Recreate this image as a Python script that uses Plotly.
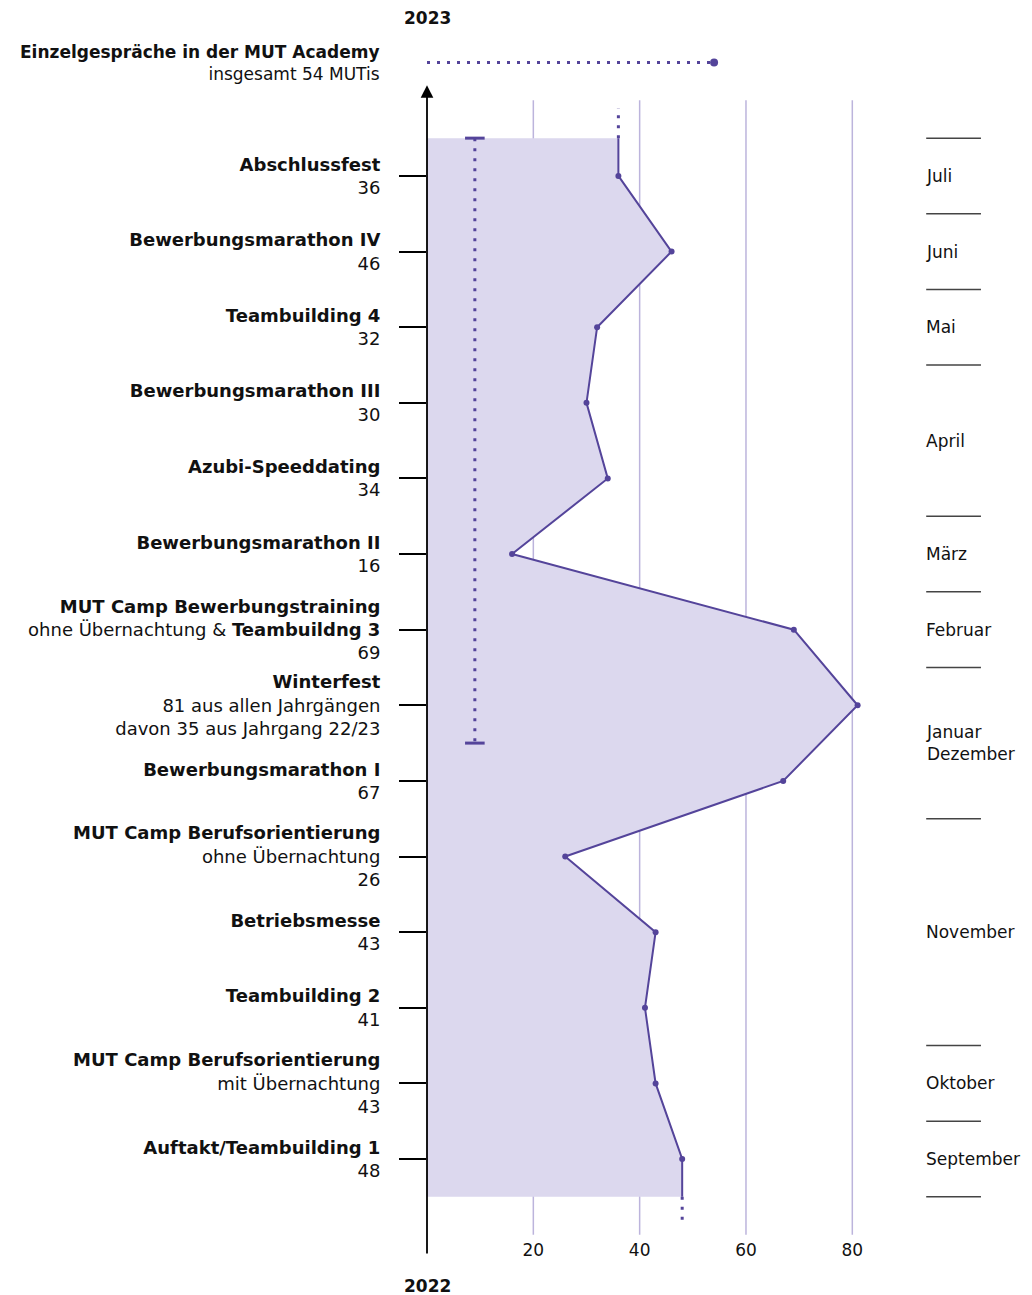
import plotly.graph_objects as go

PURPLE = "#54449a"
FILL = "#dcd8ee"
GRID = "#bcb4dc"
FONT = "'DejaVu Sans', Inter, sans-serif"

# events from bottom (Sept 2022) to top (Juli 2023)
event_titles = [
    "Auftakt/Teambuilding 1",
    "MUT Camp Berufsorientierung",
    "Teambuilding 2",
    "Betriebsmesse",
    "MUT Camp Berufsorientierung",
    "Bewerbungsmarathon I",
    "Winterfest",
    "MUT Camp Bewerbungstraining",
    "Bewerbungsmarathon II",
    "Azubi-Speeddating",
    "Bewerbungsmarathon III",
    "Teambuilding 4",
    "Bewerbungsmarathon IV",
    "Abschlussfest",
]
event_notes = [
    "",
    "mit Übernachtung",
    "",
    "",
    "ohne Übernachtung",
    "",
    "81 aus allen Jahrgängen<br>davon 35 aus Jahrgang 22/23",
    "ohne Übernachtung & <b>Teambuildng 3</b>",
    "",
    "",
    "",
    "",
    "",
    "",
]
participants = [48, 43, 41, 43, 26, 67, 81, 69, 16, 34, 30, 32, 46, 36]
show_value = [True, True, True, True, True, True, False, True, True, True, True, True, True, True]

# month bands (label, centre row) and separators between them
months = ["September", "Oktober", "November", "Januar<br>Dezember", "Februar",
          "März", "April", "Mai", "Juni", "Juli"]
month_rows = [0, 1, 3, 5.5, 7, 8, 9.5, 11, 12, 13]
month_borders = [-0.5, 0.5, 1.5, 4.5, 6.5, 7.5, 8.5, 10.5, 11.5, 12.5, 13.5]

# Einzelgespräche
einzel_total = 54
einzel_row = 14.5
# dotted bar (value, from row, to row)
bar_value = 9
bar_rows = [13.5, 5.5]

x_ticks = [20, 40, 60, 80]

rows = list(range(len(participants)))

tick_text = []
for t, n, v, s in zip(event_titles, event_notes, participants, show_value):
    parts = [f"<b>{t}</b>"]
    if n:
        parts.append(n)
    if s:
        parts.append(str(v))
    tick_text.append("<br>".join(parts))

fig = go.Figure()

# grid lines
for v in x_ticks:
    fig.add_trace(go.Scatter(x=[v, v], y=[-1, 14], mode="lines",
                             line=dict(color=GRID, width=1.5), hoverinfo="skip"))

# area + line, closed off half a row beyond the first and last events
line_x = [participants[0]] + participants + [participants[-1]]
line_y = [rows[0] - 0.5] + rows + [rows[-1] + 0.5]
fig.add_trace(go.Scatter(x=line_x, y=line_y, mode="lines", fill="tozerox",
                         fillcolor=FILL, line=dict(color=PURPLE, width=2)))
fig.add_trace(go.Scatter(x=participants, y=rows, mode="markers",
                         marker=dict(color=PURPLE, size=6)))

# dotted continuations
fig.add_trace(go.Scatter(x=[participants[0]] * 2, y=[rows[0] - 0.5, rows[0] - 0.85], mode="lines",
                         line=dict(color=PURPLE, width=3, dash="3px,7px")))
fig.add_trace(go.Scatter(x=[participants[-1]] * 2, y=[rows[-1] + 0.5, rows[-1] + 0.9], mode="lines",
                         line=dict(color=PURPLE, width=3, dash="3px,7px")))

# Einzelgespräche line
fig.add_trace(go.Scatter(x=[0, einzel_total], y=[einzel_row] * 2, mode="lines",
                         line=dict(color=PURPLE, width=3, dash="3px,7px")))
fig.add_trace(go.Scatter(x=[einzel_total], y=[einzel_row], mode="markers",
                         marker=dict(color=PURPLE, size=8), cliponaxis=False))

# dotted vertical bar with caps
fig.add_trace(go.Scatter(x=[bar_value] * 2, y=bar_rows, mode="lines",
                         line=dict(color=PURPLE, width=3, dash="3px,7px")))
fig.add_trace(go.Scatter(x=[bar_value] * 2, y=bar_rows, mode="markers",
                         marker=dict(symbol="line-ew-open", size=14, color=PURPLE,
                                     line=dict(color=PURPLE, width=3))))

# month separators
for b in month_borders:
    fig.add_trace(go.Scatter(x=[93.9, 104.2], y=[b, b], mode="lines",
                             line=dict(color="#444444", width=1.5)))

for m, r in zip(months, month_rows):
    fig.add_annotation(x=93.5, y=r, text=m, showarrow=False, xanchor="left",
                       align="left", font=dict(size=17, color="#111111"))

# y axis with arrow
fig.add_annotation(x=0, y=14.2, ax=0, ay=-1.27, axref="x", ayref="y", text="",
                   showarrow=True, arrowhead=2, arrowsize=1.4, arrowwidth=1.8,
                   arrowcolor="black")

fig.add_annotation(xref="paper", x=0, y=einzel_row, xanchor="right", xshift=-45,
                   align="right", showarrow=False,
                   text="<b>Einzelgespräche in der MUT Academy</b><br>insgesamt 54 MUTis",
                   font=dict(size=17, color="#111111"))
fig.add_annotation(xref="paper", yref="paper", x=0, y=1, xanchor="center", yanchor="middle",
                   yshift=12, showarrow=False,
                   text="<b>2023</b>", font=dict(size=17, color="#111111"))
fig.add_annotation(xref="paper", yref="paper", x=0, y=0, xanchor="center", yanchor="middle",
                   yshift=-50, showarrow=False,
                   text="<b>2022</b>", font=dict(size=17, color="#111111"))

fig.update_layout(
    width=1024, height=1287,
    margin=dict(l=419, r=0, t=22, b=59),
    plot_bgcolor="white", paper_bgcolor="white",
    showlegend=False,
    font=dict(family=FONT, size=18, color="#111111"),
    xaxis=dict(range=[0, 113.8], showgrid=False, zeroline=False, showline=False,
               tickvals=x_ticks, ticks="", ticklabelstandoff=2, tickfont=dict(size=17)),
    yaxis=dict(range=[-1.018, 14.93], showgrid=False, zeroline=False, showline=False,
               tickvals=rows, ticktext=tick_text, ticks="outside", ticklen=27,
               tickwidth=1.5, tickcolor="black", ticklabelstandoff=15,
               tickfont=dict(size=18)),
)

fig.write_html("out.html")
